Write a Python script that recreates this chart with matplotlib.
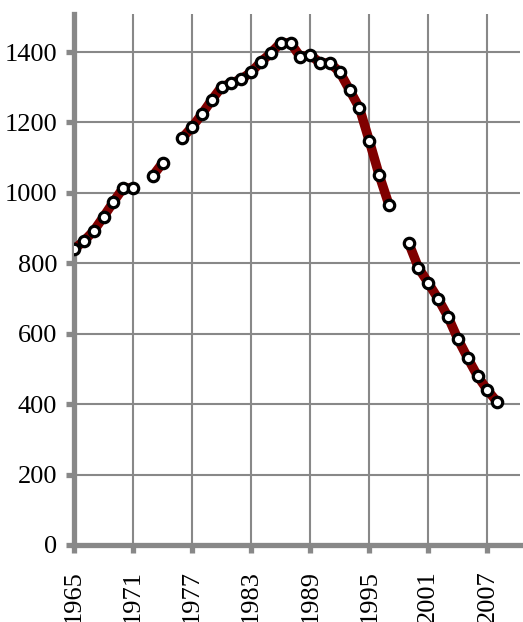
import numpy as np
import matplotlib
matplotlib.use("Agg")
import matplotlib.pyplot as plt

years = list(range(1965, 2009))
values = [840, 863, 892, 932, 974, 1014, 1014, np.nan, 1048, 1085,
          np.nan, 1156, 1187, 1224, 1264, 1301, 1312, 1323, 1343, 1372,
          1397, 1426, 1426, 1386, 1392, 1369, 1369, 1343, 1292, 1241,
          1148, 1051, 966, np.nan, 858, 787, 744, 699, 648, 585,
          531, 480, 440, 406]
xticks = [1965, 1971, 1977, 1983, 1989, 1995, 2001, 2007]
yticks = [0, 200, 400, 600, 800, 1000, 1200, 1400]

plt.rcParams['font.family'] = ['Liberation Serif', 'DejaVu Serif']

fig = plt.figure(figsize=(5.23, 6.22), dpi=100)
ax = fig.add_axes([0.1415, 0.1238, 0.8525, 0.8537])

ax.plot(years, values, color='#800000', lw=6.8, solid_capstyle='butt', zorder=3)
ax.plot(years, values, ls='none', marker='o', ms=7.5, mfc='white', mec='black', mew=2.3, zorder=4)

ax.set_xlim(1965, 2010.3)
ax.set_ylim(0, 1508)
ax.set_xticks(xticks)
ax.set_yticks(yticks)
ax.set_xticklabels([str(x) for x in xticks], rotation=90, fontsize=19)
ax.set_yticklabels([str(y) for y in yticks], fontsize=19)

ax.grid(True, color='#888888', lw=1.5, zorder=1)
ax.set_axisbelow(True)
for s in ['top', 'right']:
    ax.spines[s].set_visible(False)
for s in ['left', 'bottom']:
    ax.spines[s].set_color('#888888')
    ax.spines[s].set_linewidth(3.8)
ax.tick_params(axis='both', color='#888888', width=3.8, length=6, direction='out')
ax.tick_params(axis='y', pad=6)
ax.tick_params(axis='x', pad=12)

fig.savefig('out.png', dpi=100)
